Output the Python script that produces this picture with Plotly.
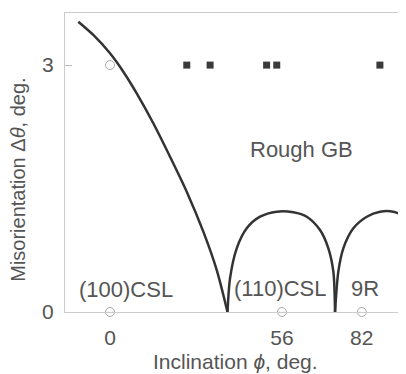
import plotly.graph_objects as go

# Curve: misorientation vs inclination (three segments meeting at cusps)
seg1_x = [-10.33, -5.44, 0.0, 4.33, 8.70, 14.10, 19.54, 24.98, 30.39, 34.76, 38.27]
seg1_y = [3.527, 3.366, 3.143, 2.920, 2.657, 2.293, 1.887, 1.462, 0.976, 0.510, 0.0]
seg2_x = [38.27, 39.09, 41.27, 44.53, 48.86, 54.30, 59.71, 64.07, 68.40, 71.11, 72.74, 73.29]
seg2_y = [0.0, 0.409, 0.774, 1.017, 1.158, 1.219, 1.211, 1.158, 0.996, 0.774, 0.490, 0.0]
seg3_x = [73.29, 74.36, 75.99, 79.25, 83.62, 87.95, 92.28, 95.02]
seg3_y = [0.0, 0.490, 0.774, 1.017, 1.158, 1.219, 1.219, 1.179]

# Rough GB points (filled squares)
rough_x = [25.0, 32.6, 51.0, 54.3, 87.9]
rough_y = [3, 3, 3, 3, 3]

# Special GBs (open circles)
special_x = [0, 0, 56, 82]
special_y = [3, 0, 0, 0]

xticks = [0, 56, 82]
yticks = [0, 3]

FONT = "Liberation Sans, Arial, sans-serif"
TXT = "#555555"

fig = go.Figure()
for sx, sy in [(seg1_x, seg1_y), (seg2_x, seg2_y), (seg3_x, seg3_y)]:
    fig.add_trace(go.Scatter(x=sx, y=sy, mode="lines",
                             line=dict(color="#333333", width=2.5, shape="spline", smoothing=0.8),
                             hoverinfo="skip", showlegend=False))
fig.add_trace(go.Scatter(x=rough_x, y=rough_y, mode="markers",
                         marker=dict(symbol="square", size=7, color="#3a3a3a"),
                         showlegend=False))
fig.add_trace(go.Scatter(x=special_x, y=special_y, mode="markers", cliponaxis=False,
                         marker=dict(symbol="circle", size=9, color="white",
                                     line=dict(color="#aaaaaa", width=1)),
                         showlegend=False))

annots = [
    ("Rough GB", 62.5, 1.97),
    ("(100)CSL", 5.05, 0.27),
    ("(110)CSL", 55.4, 0.29),
    ("9R", 83.1, 0.29),
]
for t, ax_, ay_ in annots:
    fig.add_annotation(x=ax_, y=ay_, text=t, showarrow=False,
                       font=dict(family=FONT, size=22, color=TXT))

# axis titles as paper annotations
fig.add_annotation(xref="paper", yref="paper", x=0.50, y=-0.164, xanchor="center",
                   yanchor="middle", text="Inclination <i>ϕ</i>, deg.", showarrow=False,
                   font=dict(family=FONT, size=21, color=TXT))
fig.add_annotation(xref="paper", yref="paper", x=-0.136, y=0.441, xanchor="center",
                   yanchor="middle", textangle=-90, text="Misorientation Δ<i>θ</i>, deg.",
                   showarrow=False, font=dict(family=FONT, size=20, color=TXT))

# page body has an 8px margin, so the figure is 8px smaller and margins shifted
fig.update_layout(
    width=398, height=366,
    margin=dict(l=57, r=0, t=5, b=62),
    paper_bgcolor="white", plot_bgcolor="white",
    font=dict(family=FONT, size=20, color=TXT),
    showlegend=False,
)
fig.update_xaxes(range=[-14.66, 96.4], tickvals=xticks, ticktext=[str(v) for v in xticks],
                 showgrid=False, zeroline=False, showline=True, linecolor="#cccccc",
                 linewidth=1, mirror=True, ticks="", ticklabelstandoff=7, automargin=False,
                 tickfont=dict(family=FONT, size=21, color=TXT))
fig.update_yaxes(range=[0, 3.633], tickvals=yticks, ticktext=[str(v) for v in yticks],
                 showgrid=False, zeroline=False, showline=True, linecolor="#cccccc",
                 linewidth=1, ticks="inside", ticklen=7, tickcolor="#bbbbbb",
                 ticklabelstandoff=6, automargin=False,
                 tickfont=dict(family=FONT, size=21, color=TXT))

fig.write_html("out.html")
